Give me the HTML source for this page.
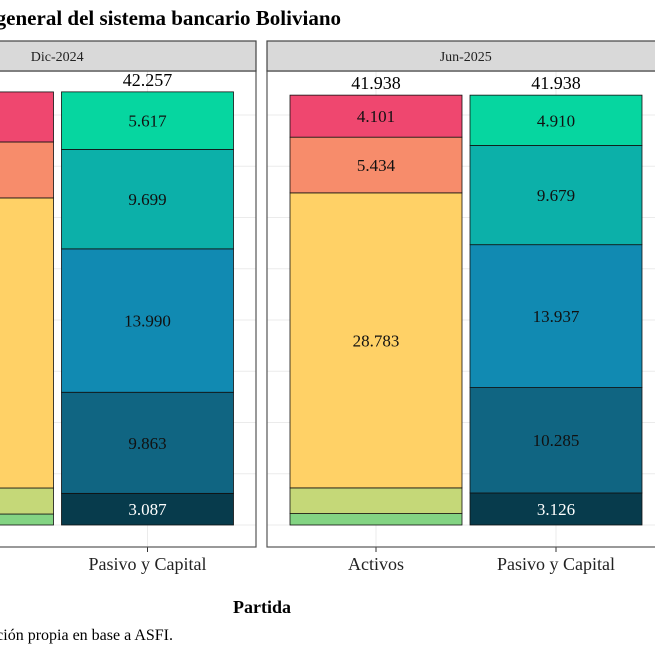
<!DOCTYPE html>
<html><head><meta charset="utf-8"><style>
html,body{margin:0;padding:0;background:#fff;width:655px;height:655px;overflow:hidden}
svg{display:block;font-family:"Liberation Serif",serif}
</style></head><body>
<svg id="c" width="655" height="655" viewBox="0 0 655 655">
<text x="341" y="25" text-anchor="end" font-size="21" font-weight="bold">Estructura general del sistema bancario Boliviano</text>
<text x="262" y="613" text-anchor="middle" font-size="18" font-weight="bold">Partida</text>
<text x="173" y="640" text-anchor="end" font-size="16">Fuente: Elaboración propia en base a ASFI.</text>
<g id="plot"></g>
</svg>
<script>
const periods = ["Dic-2024", "Jun-2025"];
const categories = ["Activos", "Pasivo y Capital"];
// stacked from bottom to top
const activosDic = [1.07, 2.54, 28.30, 5.46, 4.88];
const pasivoDic = [3.087, 9.863, 13.990, 9.699, 5.617];
const activosJun = [1.116, 2.504, 28.783, 5.434, 4.101];
const pasivoJun = [3.126, 10.285, 13.937, 9.679, 4.910];
const activosShow = [false, false, true, true, true];
const pasivoShow = [true, true, true, true, true];
const totals = [[42.257, 42.257], [41.938, 41.938]];
const gridTicks = [0, 5, 10, 15, 20, 25, 30, 35, 40];

const actColors = ["#83d483", "#c5d878", "#ffd166", "#f78c6b", "#ef476f"];
const pasColors = ["#073b4c", "#106582", "#118ab2", "#0cb0a9", "#06d6a0"];
const ns = "http://www.w3.org/2000/svg";
const g = document.getElementById("plot");
const y = v => 525 - v * 10.25;
const panelLeft = [-141.5, 267], panelW = 397.5;
const xCenter = (p, i) => panelLeft[p] + 109 + i * 180;
const barW = 172;
function mk(tag, attrs, parent) { const e = document.createElementNS(ns, tag); for (const k in attrs) e.setAttribute(k, attrs[k]); (parent || g).appendChild(e); return e; }
const fmt = v => v.toFixed(3).replace(".", ".");
const data = [[activosDic, pasivoDic], [activosJun, pasivoJun]];
periods.forEach((per, p) => {
  const L = panelLeft[p];
  const panel = mk("g", {});
  
  
  gridTicks.forEach(t => {
    const l = mk("line", { x1: L, x2: L + panelW, y1: y(t), y2: y(t), stroke: "#ebebeb", "stroke-width": 1 }, panel);
    
    
  });
  categories.forEach((cat, i) => {
    const vals = data[p][i];
    const cols = i === 0 ? actColors : pasColors;
    const show = i === 0 ? activosShow : pasivoShow;
    const cx = xCenter(p, i);
    const vl = mk("line", { x1: cx, x2: cx, y1: 71, y2: 547, stroke: "#ebebeb" }, panel);
    
    
    let acc = 0;
    vals.forEach((v, k) => {
      const r = mk("rect", { x: cx - barW / 2, y: y(acc + v), width: barW, height: v * 10.25, fill: cols[k], stroke: "#111", "stroke-width": 0.8 }, panel);
      
      
      if (show[k]) {
        const t = mk("text", { x: cx, y: y(acc + v / 2) + 6, "text-anchor": "middle", "font-size": 17, fill: (i === 1 && k === 0) ? "#fff" : "#111" }, panel);
        t.textContent = fmt(v);
        
        
      }
      acc += v;
    });
    const tt = mk("text", { x: cx, y: y(acc) - 6, "text-anchor": "middle", "font-size": 18 }, panel);
    tt.textContent = fmt(totals[p][i]);
    
    
    const tk = mk("line", { x1: cx, x2: cx, y1: 547, y2: 552, stroke: "#333" }, panel);
    
    
    const lab = mk("text", { x: cx, y: 570, "text-anchor": "middle", "font-size": 18, fill: "#222" }, panel);
    lab.textContent = cat;
    
    
  });
  const b = mk("rect", { x: L, y: 71, width: panelW, height: 476, fill: "none", stroke: "#555", "stroke-width": 1.2 }, panel);
  
  
  const s = mk("rect", { x: L, y: 41, width: panelW, height: 30, fill: "#d9d9d9", stroke: "#444", "stroke-width": 1.2 }, panel);
  
  
  const st = mk("text", { x: L + panelW / 2, y: 61, "text-anchor": "middle", "font-size": 14, fill: "#222" }, panel);
  st.textContent = per;
  
  
});
</script>
</body></html>
